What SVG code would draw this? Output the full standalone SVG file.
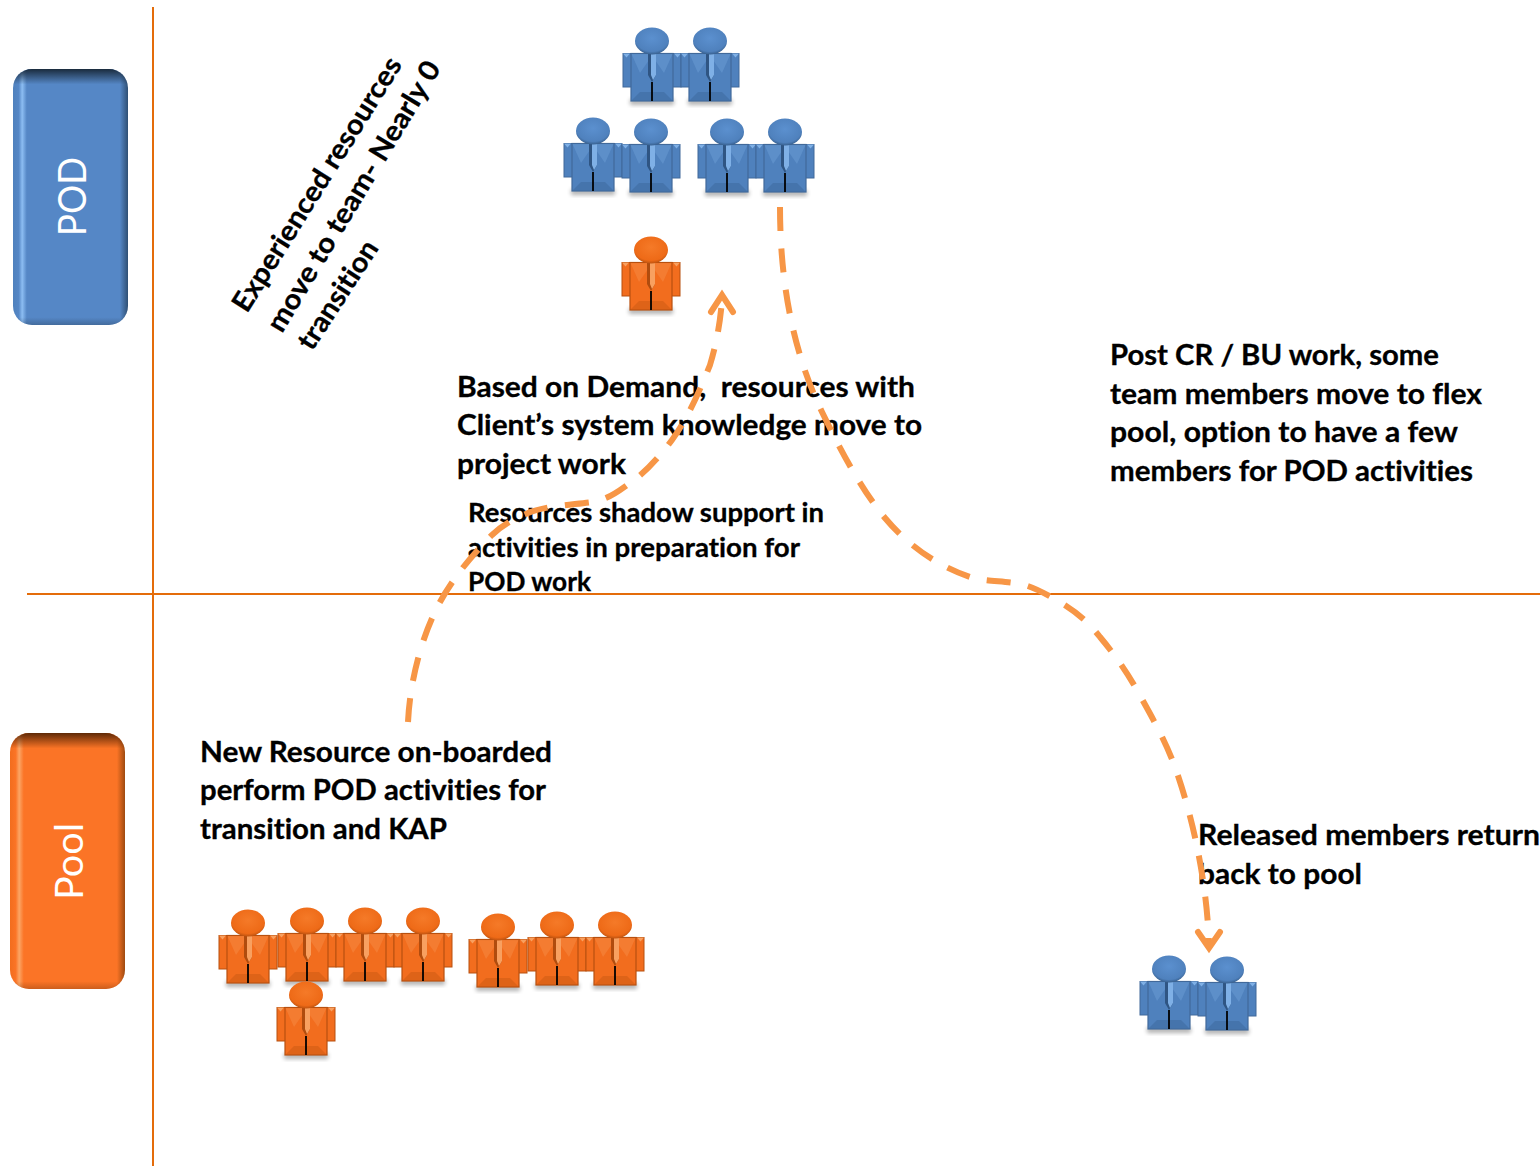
<svg xmlns="http://www.w3.org/2000/svg" xmlns:xlink="http://www.w3.org/1999/xlink" width="1540" height="1166" viewBox="0 0 1540 1166">
<style>
text{font-variant-ligatures:none}
.t{font-family:"Lato","Liberation Sans",sans-serif;font-weight:700;font-size:28px;fill:#000;stroke:#000;stroke-width:.3px;white-space:pre}
.s{font-size:26px}
.lab{font-family:"Lato","Liberation Sans",sans-serif;font-size:38px;fill:#fff;text-anchor:start}
.axis{stroke:#E46C0A;stroke-width:2;fill:none}
.flow{stroke:#F79646;stroke-width:6;fill:none;stroke-dasharray:24 17.500}
.head{stroke:#F79646;stroke-width:6;fill:none;stroke-linecap:round;stroke-linejoin:miter}
.blue{--m:#4F81BD;--d:#2F5583;--l:#7FB0E6;--e:#41699A;--hd:url(#hb)}
.orange{--m:#F26D1E;--d:#B04C0E;--l:#F8A060;--e:#B8500F;--hd:url(#ho)}
.m{fill:var(--m)}.d{fill:var(--d)}.l{fill:var(--l)}.e{stroke:var(--e)}.hd{fill:var(--hd)}
</style>
<defs>
<radialGradient id="hb" cx=".5" cy=".4" r=".65"><stop offset="0" stop-color="#5B90CF"/><stop offset=".75" stop-color="#4F81BD"/><stop offset="1" stop-color="#2C5078"/></radialGradient>
<radialGradient id="ho" cx=".5" cy=".4" r=".65"><stop offset="0" stop-color="#F57A28"/><stop offset=".75" stop-color="#EE6A17"/><stop offset="1" stop-color="#A8480C"/></radialGradient>
<linearGradient id="podg" x1="0" x2="1" y1="0" y2="0"><stop offset="0" stop-color="#4F81BD"/><stop offset=".05" stop-color="#5587C6"/><stop offset=".08" stop-color="#8CBDF2"/><stop offset=".12" stop-color="#5587C6"/><stop offset=".93" stop-color="#5587C6"/><stop offset="1" stop-color="#2F4F73"/></linearGradient>
<linearGradient id="poolg" x1="0" x2="1" y1="0" y2="0"><stop offset="0" stop-color="#F26D1E"/><stop offset=".05" stop-color="#FB7426"/><stop offset=".08" stop-color="#FBA565"/><stop offset=".12" stop-color="#FB7426"/><stop offset=".93" stop-color="#FB7426"/><stop offset="1" stop-color="#9E4A10"/></linearGradient>
<linearGradient id="topb" x1="0" x2="0" y1="0" y2="1"><stop offset="0" stop-color="#1A2B3D"/><stop offset=".06" stop-color="#1A2B3D" stop-opacity="0"/><stop offset=".97" stop-color="#1A2B3D" stop-opacity="0"/><stop offset="1" stop-color="#1A2B3D" stop-opacity=".3"/></linearGradient>
<linearGradient id="topo" x1="0" x2="0" y1="0" y2="1"><stop offset="0" stop-color="#5E2906"/><stop offset=".06" stop-color="#5E2906" stop-opacity="0"/><stop offset=".97" stop-color="#5E2906" stop-opacity="0"/><stop offset="1" stop-color="#5E2906" stop-opacity=".3"/></linearGradient>
<filter id="sh" x="-20%" y="-50%" width="140%" height="200%"><feGaussianBlur stdDeviation="2"/></filter>
<g id="person">
<rect x="-22" y="58" width="44" height="6" fill="#000" opacity=".3" filter="url(#sh)"/>
<rect class="m e" x="-29" y="12.500" width="58" height="33.500" stroke-width="1"/>
<path class="l" d="M-29 12.500h7l-3.500 4zM22 12.500h7l-3.500 4z"/>
<rect class="m e" x="-21" y="12.500" width="42" height="47.500" stroke-width="1.200"/>
<path class="l" d="M-20.500 13L-3 13L-3 19L-12 32z" opacity=".3"/>
<path class="l" d="M20.500 13L3 13L3 19L12 32z" opacity=".3"/>
<path class="d" d="M-20.500 59.500L-12 51L12 51L20.500 59.500z" opacity=".3"/>
<path class="d" d="M-4 12L4 12L4 34L0 41L-4 34z"/>
<path class="l" d="M-1 13L4 13L4 34L1 39L-1 34z"/>
<rect x="-.9" y="41" width="1.800" height="19" fill="#000"/>
<ellipse class="hd" cx="0" cy="0" rx="17" ry="13.500"/>
</g>
</defs>
<rect width="1540" height="1166" fill="#fff"/>
<g id="axes">
<path class="axis" d="M153 7V1166"/>
<path class="axis" d="M27 594H1540"/>
</g>
<g id="pod-label">
<rect x="13" y="69" width="115" height="256" rx="19" fill="url(#podg)"/>
<rect x="13" y="69" width="115" height="256" rx="19" fill="url(#topb)"/>
<text class="lab" transform="translate(86 236) rotate(-90)" textLength="79" lengthAdjust="spacingAndGlyphs">POD</text>
</g>
<g id="pool-label">
<rect x="10" y="733" width="115" height="256" rx="19" fill="url(#poolg)"/>
<rect x="10" y="733" width="115" height="256" rx="19" fill="url(#topo)"/>
<text class="lab" transform="translate(83 900) rotate(-90)" textLength="77" lengthAdjust="spacingAndGlyphs">Pool</text>
</g>
<g id="pod-team" class="blue">
<use xlink:href="#person" x="652" y="41"/>
<use xlink:href="#person" x="710" y="41"/>
<use xlink:href="#person" x="593" y="131"/>
<use xlink:href="#person" x="651" y="132"/>
<use xlink:href="#person" x="727" y="132"/>
<use xlink:href="#person" x="785" y="132"/>
</g>
<g id="pod-new" class="orange">
<use xlink:href="#person" x="651" y="250"/>
</g>
<g id="pool-team" class="orange">
<use xlink:href="#person" x="248" y="923"/>
<use xlink:href="#person" x="307" y="921"/>
<use xlink:href="#person" x="365" y="921"/>
<use xlink:href="#person" x="423" y="921"/>
<use xlink:href="#person" x="498" y="927"/>
<use xlink:href="#person" x="557" y="925"/>
<use xlink:href="#person" x="615" y="925"/>
<use xlink:href="#person" x="306" y="995"/>
</g>
<g id="released" class="blue">
<use xlink:href="#person" x="1169" y="969"/>
<use xlink:href="#person" x="1227" y="970"/>
</g>
<g id="texts">
<g class="t">
<text transform="translate(247 314) rotate(-58)" textLength="294" lengthAdjust="spacingAndGlyphs">Experienced resources</text>
<text transform="translate(282 334) rotate(-59)" textLength="310" lengthAdjust="spacingAndGlyphs">move to team- Nearly 0</text>
<text transform="translate(312 352) rotate(-57)" textLength="124" lengthAdjust="spacingAndGlyphs">transition</text>
<text x="457" y="397" textLength="458" lengthAdjust="spacingAndGlyphs" xml:space="preserve">Based on Demand,  resources with</text>
<text x="457" y="435" textLength="465" lengthAdjust="spacingAndGlyphs">Client’s system knowledge move to</text>
<text x="457" y="474" textLength="169" lengthAdjust="spacingAndGlyphs">project work</text>
<text x="1110" y="365" textLength="329" lengthAdjust="spacingAndGlyphs">Post CR / BU work, some</text>
<text x="1110" y="404" textLength="372" lengthAdjust="spacingAndGlyphs">team members move to flex</text>
<text x="1110" y="442" textLength="348" lengthAdjust="spacingAndGlyphs">pool, option to have a few</text>
<text x="1110" y="481" textLength="363" lengthAdjust="spacingAndGlyphs">members for POD activities</text>
<text x="200" y="762" textLength="352" lengthAdjust="spacingAndGlyphs">New Resource on-boarded</text>
<text x="200" y="800" textLength="346" lengthAdjust="spacingAndGlyphs">perform POD activities for</text>
<text x="200" y="839" textLength="247" lengthAdjust="spacingAndGlyphs">transition and KAP</text>
<text x="1198" y="845" textLength="342" lengthAdjust="spacingAndGlyphs">Released members return</text>
<text x="1198" y="884" textLength="164" lengthAdjust="spacingAndGlyphs">back to pool</text>
<text class="s" x="468" y="522" textLength="356" lengthAdjust="spacingAndGlyphs">Resources shadow support in</text>
<text class="s" x="468" y="557" textLength="332" lengthAdjust="spacingAndGlyphs">activities in preparation for</text>
<text class="s" x="468" y="591" textLength="123" lengthAdjust="spacingAndGlyphs">POD work</text>
</g>
</g>
<g id="connectors">
<path class="flow" d="M408 722C410 680 422 635 440 602C452 580 470 557 492 535C505 523 516 518 528 513C545 506 570 505 592 502C610 499 620 490 630 483C645 473 660 456 672 440C688 418 700 390 710 365C716 345 720 325 722 300"/>
<path class="head" d="M711 312L722 295L733 312"/>
<path class="flow" d="M780 207C780 280 792 350 822 412C838 445 860 488 885 518C905 542 935 566 973 578C985 581 1000 581 1015 583C1030 585 1042 592 1053 598C1072 609 1085 618 1100 637C1115 655 1127 672 1138 692C1152 717 1165 740 1175 767C1192 815 1207 880 1209 945"/>
<path class="head" d="M1198 932L1209 948L1220 932"/>
</g>
</svg>
